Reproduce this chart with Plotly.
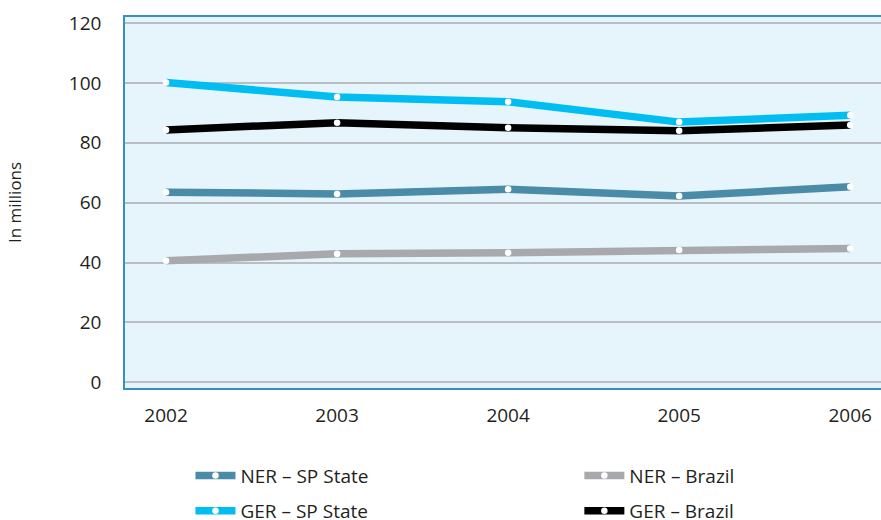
import plotly.graph_objects as go

years = [2002, 2003, 2004, 2005, 2006]
ner_sp = [63.5, 62.9, 64.5, 62.2, 65.3]
ner_br = [40.6, 42.9, 43.3, 44.2, 44.7]
ger_sp = [100.1, 95.3, 93.7, 86.9, 89.2]
ger_br = [84.3, 86.7, 85.0, 84.0, 85.9]
y_ticks = [0, 20, 40, 60, 80, 100, 120]

FONT = "Open Sans"
TXT = "#231F20"

fig = go.Figure()

def add(name, y, color, legend):
    fig.add_trace(go.Scatter(
        x=years, y=y, name=name, mode="lines+markers",
        line=dict(color=color, width=7.5),
        marker=dict(color="white", size=6.5, line=dict(width=0)),
        legend=legend,
    ))

add("NER – Brazil", ner_br, "#A7A9AC", "legend2")
add("NER – SP State", ner_sp, "#4A8BA8", "legend")
add("GER – Brazil", ger_br, "#000000", "legend4")
add("GER – SP State", ger_sp, "#00BDF2", "legend3")

leg_common = dict(orientation="h", xanchor="left", yanchor="middle",
                  font=dict(family=FONT, size=19, color=TXT),
                  bgcolor="rgba(0,0,0,0)", itemwidth=40)

col1, col2 = 0.0866, 0.601
row1, row2 = -0.236, -0.331

fig.update_layout(
    width=881, height=520,
    margin=dict(l=125, r=0, t=16.7, b=131.7, autoexpand=False),
    paper_bgcolor="white", plot_bgcolor="#E6F4FC",
    font=dict(family=FONT, color=TXT),
    showlegend=True,
    legend=dict(x=col1, y=row1, **leg_common),
    legend2=dict(x=col2, y=row1, **leg_common),
    legend3=dict(x=col1, y=row2, **leg_common),
    legend4=dict(x=col2, y=row2, **leg_common),
    xaxis=dict(
        range=[2001.76, 2006.18], tickvals=years, ticktext=[str(v) for v in years],
        showgrid=False, zeroline=False, showline=True, mirror=True,
        linecolor="#3A90BD", linewidth=1.5, ticks="",
        tickfont=dict(family=FONT, size=19, color=TXT), ticklabelstandoff=9,
    ),
    yaxis=dict(
        range=[-1.9, 122], tickvals=y_ticks,
        showgrid=True, gridcolor="#B8BEC3", gridwidth=2, zeroline=False,
        showline=True, linecolor="#3A90BD", linewidth=1.5, ticks="",
        tickfont=dict(family=FONT, size=19, color=TXT), ticklabelstandoff=18,
        title=dict(text="In millions", font=dict(family=FONT, size=17, color=TXT), standoff=43),
    ),
)

fig.write_html(
    "out.html",
    config={"displayModeBar": False},
    post_script="document.body.style.margin='0';document.body.style.overflow='hidden';",
)
